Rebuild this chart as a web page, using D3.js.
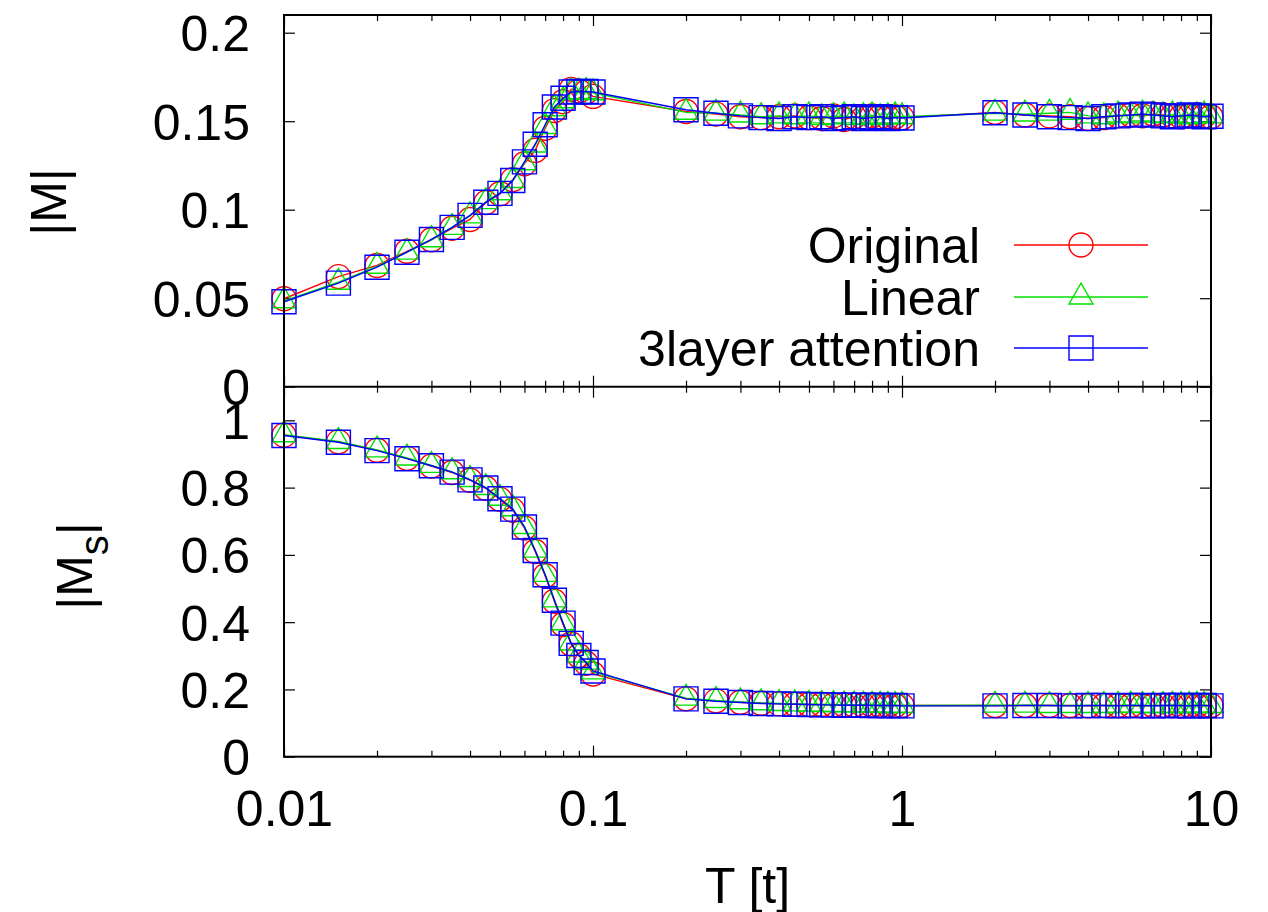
<!DOCTYPE html>
<html>
<head>
<meta charset="utf-8">
<script src="https://cdn.jsdelivr.net/npm/d3@7"></script>
<style>
  html, body { margin: 0; padding: 0; background: #fff; }
  svg { display: block; font-family: 'Liberation Sans', Arial, Helvetica, sans-serif; }
</style>
</head>
<body>
<div id="chart"></div>
<script>
// temperatures (log axis)
const T = [0.01, 0.015, 0.02, 0.025, 0.03, 0.035, 0.04, 0.045, 0.05, 0.055, 0.06, 0.065, 0.07, 0.075, 0.08, 0.085, 0.09, 0.095, 0.1,
  0.2, 0.25, 0.3, 0.35, 0.4, 0.45, 0.5, 0.55, 0.6, 0.65, 0.7, 0.75, 0.8, 0.85, 0.9, 0.95, 1.0,
  2, 2.5, 3, 3.5, 4, 4.5, 5, 5.5, 6, 6.5, 7, 7.5, 8, 8.5, 9, 9.5, 10]

// |M| (top panel)
const mOriginal = [0.0497, 0.0622, 0.0685, 0.0765, 0.0830, 0.0895, 0.0945, 0.1040, 0.1090, 0.1170, 0.1260, 0.1335, 0.1460, 0.1560, 0.1610, 0.1680, 0.1670, 0.1665, 0.1640,
  0.1555, 0.1540, 0.1525, 0.1520, 0.1525, 0.1530, 0.1520, 0.1515, 0.1530, 0.1510, 0.1525, 0.1520, 0.1530, 0.1525, 0.1520, 0.1525, 0.1520,
  0.1550, 0.1535, 0.1530, 0.1525, 0.1515, 0.1520, 0.1530, 0.1535, 0.1530, 0.1540, 0.1535, 0.1530, 0.1525, 0.1530, 0.1535, 0.1530, 0.1525]
const mLinear = [0.0485, 0.0590, 0.0680, 0.0760, 0.0830, 0.0900, 0.0965, 0.1045, 0.1095, 0.1165, 0.1265, 0.1365, 0.1470, 0.1570, 0.1615, 0.1665, 0.1665, 0.1668, 0.1660,
  0.1550, 0.1545, 0.1535, 0.1525, 0.1530, 0.1525, 0.1530, 0.1520, 0.1525, 0.1530, 0.1520, 0.1525, 0.1530, 0.1520, 0.1525, 0.1530, 0.1525,
  0.1545, 0.1540, 0.1545, 0.1550, 0.1530, 0.1525, 0.1535, 0.1530, 0.1540, 0.1535, 0.1530, 0.1535, 0.1530, 0.1525, 0.1530, 0.1535, 0.1530]
const mAttention = [0.0480, 0.0585, 0.0675, 0.0760, 0.0832, 0.0900, 0.0968, 0.1042, 0.1092, 0.1165, 0.1270, 0.1370, 0.1480, 0.1580, 0.1630, 0.1665, 0.1668, 0.1668, 0.1665,
  0.1565, 0.1545, 0.1530, 0.1520, 0.1515, 0.1525, 0.1520, 0.1525, 0.1515, 0.1520, 0.1525, 0.1515, 0.1520, 0.1525, 0.1515, 0.1520, 0.1518,
  0.1548, 0.1535, 0.1525, 0.1520, 0.1515, 0.1525, 0.1530, 0.1535, 0.1540, 0.1535, 0.1530, 0.1525, 0.1530, 0.1535, 0.1530, 0.1525, 0.1528]

// |Ms| (bottom panel)
const msOriginal = [0.956, 0.936, 0.911, 0.887, 0.864, 0.845, 0.822, 0.798, 0.765, 0.733, 0.680, 0.610, 0.538, 0.462, 0.393, 0.335, 0.300, 0.278, 0.246,
  0.172, 0.166, 0.162, 0.159, 0.157, 0.156, 0.155, 0.155, 0.154, 0.154, 0.153, 0.153, 0.153, 0.152, 0.152, 0.152, 0.152,
  0.152, 0.152, 0.152, 0.152, 0.151, 0.152, 0.152, 0.152, 0.151, 0.152, 0.152, 0.152, 0.151, 0.152, 0.152, 0.152, 0.152]
const msLinear = [0.957, 0.937, 0.912, 0.888, 0.866, 0.847, 0.824, 0.800, 0.768, 0.737, 0.684, 0.614, 0.542, 0.466, 0.398, 0.338, 0.302, 0.281, 0.252,
  0.174, 0.167, 0.163, 0.160, 0.158, 0.157, 0.156, 0.155, 0.155, 0.154, 0.154, 0.153, 0.153, 0.153, 0.152, 0.152, 0.152,
  0.153, 0.153, 0.152, 0.152, 0.152, 0.152, 0.152, 0.153, 0.152, 0.152, 0.152, 0.152, 0.152, 0.152, 0.153, 0.152, 0.152]
const msAttention = [0.955, 0.935, 0.910, 0.886, 0.865, 0.846, 0.823, 0.799, 0.767, 0.736, 0.683, 0.613, 0.541, 0.465, 0.397, 0.337, 0.301, 0.280, 0.255,
  0.172, 0.165, 0.161, 0.158, 0.157, 0.156, 0.155, 0.154, 0.154, 0.153, 0.153, 0.153, 0.152, 0.152, 0.152, 0.152, 0.151,
  0.151, 0.152, 0.152, 0.151, 0.152, 0.152, 0.151, 0.152, 0.152, 0.151, 0.152, 0.152, 0.152, 0.151, 0.152, 0.152, 0.151]

const seriesNames = ['Original', 'Linear', '3layer attention']
const seriesColors = ['#ff0000', '#00e000', '#0000ff']
const seriesShapes = ['circle', 'triangle', 'square']

const xTicks = [0.01, 0.1, 1, 10]
const xTickLabels = ['0.01', '0.1', '1', '10']
const mTicks = [0, 0.05, 0.1, 0.15, 0.2]
const mTickLabels = ['0', '0.05', '0.1', '0.15', '0.2']
const msTicks = [0, 0.2, 0.4, 0.6, 0.8, 1]
const msTickLabels = ['0', '0.2', '0.4', '0.6', '0.8', '1']

const W = 1268, H = 912
const left = 284, right = 1211
const topY = 15, midY = 386.7, botY = 756.7
const FONT = 50
const MAJOR = 11, MINOR = 6

const svg = d3.select('#chart').append('svg')
  .attr('width', W).attr('height', H)
  .attr('viewBox', `0 0 ${W} ${H}`)

const x = d3.scaleLog().domain([0.01, 10]).range([left, right])
const minorTicks = x.ticks().filter(t => !xTicks.some(m => Math.abs(m - t) < 1e-9))

function marker(g, shape, color, cx, cy) {
  if (shape === 'circle') {
    g.append('circle').attr('cx', cx).attr('cy', cy).attr('r', 12)
      .attr('fill', 'none').attr('stroke', color).attr('stroke-width', 1.4)
  } else {
    const size = shape === 'square' ? 576 : 250
    const type = shape === 'square' ? d3.symbolSquare : d3.symbolTriangle
    g.append('path').attr('d', d3.symbol().type(type).size(size)())
      .attr('transform', `translate(${cx},${cy})`)
      .attr('fill', 'none').attr('stroke', color).attr('stroke-width', 1.4)
  }
}

function panel(y0, y1, domain, ticks, tickLabels, seriesList, showXLabels) {
  const y = d3.scaleLinear().domain(domain).range([y1, y0])
  const g = svg.append('g')

  // x ticks: bottom and top edges, pointing inwards
  const xb = g.append('g').attr('transform', `translate(0,${y1})`)
    .call(d3.axisBottom(x).tickValues(xTicks).tickSize(-MAJOR).tickPadding(34)
      .tickFormat((d, i) => showXLabels ? xTickLabels[i] : ''))
  g.append('g').attr('transform', `translate(0,${y1})`)
    .call(d3.axisBottom(x).tickValues(minorTicks).tickSize(-MINOR).tickFormat(''))
  g.append('g').attr('transform', `translate(0,${y0})`)
    .call(d3.axisTop(x).tickValues(xTicks).tickSize(-MAJOR).tickFormat(''))
  g.append('g').attr('transform', `translate(0,${y0})`)
    .call(d3.axisTop(x).tickValues(minorTicks).tickSize(-MINOR).tickFormat(''))

  // y ticks left (with labels) and right
  g.append('g').attr('transform', `translate(${left},0)`)
    .call(d3.axisLeft(y).tickValues(ticks).tickSize(-MAJOR).tickPadding(34)
      .tickFormat((d, i) => tickLabels[i]))
    .selectAll('text').attr('dy', '0.36em')
  g.append('g').attr('transform', `translate(${right},0)`)
    .call(d3.axisRight(y).tickValues(ticks).tickSize(-MAJOR).tickFormat(''))

  g.selectAll('.domain').remove()
  g.selectAll('.tick line').attr('stroke', '#000').attr('stroke-width', 1.2)
  g.selectAll('.tick text').attr('fill', '#000').style('font-size', FONT + 'px')
    .style('font-family', "'Liberation Sans', Arial, sans-serif")

  // data series: lines with open markers
  const line = d3.line().x((d, i) => x(T[i])).y(d => y(d))
  seriesList.forEach((vals, si) => {
    const sg = g.append('g')
    sg.append('path').attr('d', line(vals))
      .attr('fill', 'none').attr('stroke', seriesColors[si]).attr('stroke-width', 1.4)
    vals.forEach((v, i) => marker(sg, seriesShapes[si], seriesColors[si], x(T[i]), y(v)))
  })

  return y
}

panel(topY, midY, [0, 0.21], mTicks, mTickLabels, [mOriginal, mLinear, mAttention], false)
panel(midY, botY, [0, 1.1], msTicks, msTickLabels, [msOriginal, msLinear, msAttention], true)

// frames on top of the data
svg.append('rect').attr('x', left).attr('y', topY)
  .attr('width', right - left).attr('height', botY - topY)
  .attr('fill', 'none').attr('stroke', '#000').attr('stroke-width', 2)
svg.append('line').attr('x1', left).attr('x2', right).attr('y1', midY).attr('y2', midY)
  .attr('stroke', '#000').attr('stroke-width', 2)

// axis titles
svg.append('text').attr('transform', 'translate(66,202) rotate(-90)')
  .attr('text-anchor', 'middle').style('font-size', FONT + 'px').text('|M|')
const ms = svg.append('text').attr('transform', 'translate(92,566) rotate(-90)')
  .attr('text-anchor', 'middle').style('font-size', FONT + 'px')
ms.append('tspan').text('|M')
ms.append('tspan').attr('dy', 16).style('font-size', '40px').text('s')
ms.append('tspan').attr('dy', -16).text('|')

svg.append('text').attr('x', (left + right) / 2).attr('y', 903)
  .attr('text-anchor', 'middle').style('font-size', FONT + 'px').text('T [t]')

// legend
const legendRows = [245, 297, 348]
seriesNames.forEach((name, i) => {
  const ly = legendRows[i]
  svg.append('text').attr('x', 980).attr('y', ly).attr('dy', '0.36em')
    .attr('text-anchor', 'end').style('font-size', FONT + 'px').text(name)
  svg.append('line').attr('x1', 1014).attr('x2', 1148).attr('y1', ly).attr('y2', ly)
    .attr('stroke', seriesColors[i]).attr('stroke-width', 1.4)
  marker(svg, seriesShapes[i], seriesColors[i], 1081, ly)
})
</script>
</body>
</html>
